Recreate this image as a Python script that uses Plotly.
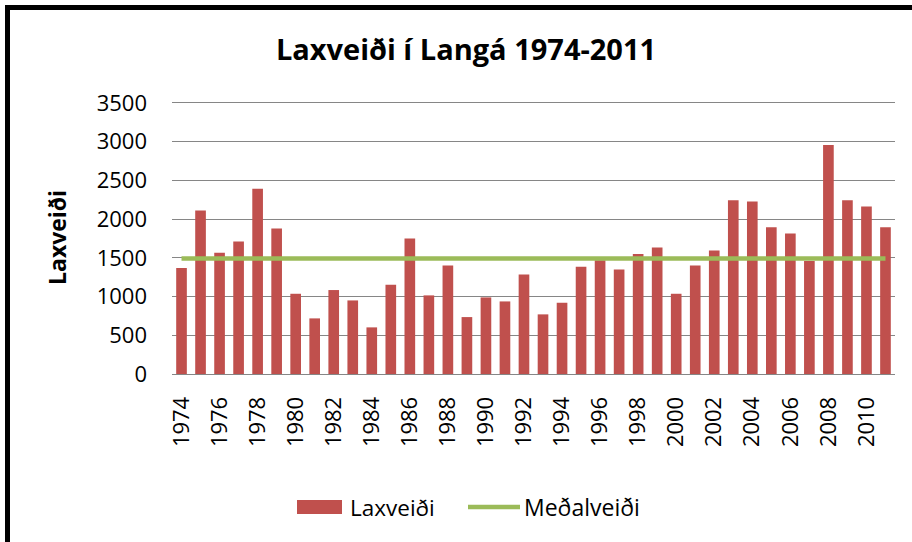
import plotly.graph_objects as go

years = list(range(1974, 2012))
laxveidi = [1370, 2111, 1565, 1711, 2391, 1879, 1036, 718, 1084, 950,
            602, 1152, 1750, 1015, 1402, 735, 989, 937, 1286, 770,
            920, 1385, 1470, 1350, 1548, 1634, 1036, 1402, 1595, 2245,
            2227, 1896, 1815, 1460, 2958, 2245, 2163, 1896]
medalveidi_value = 1492
medalveidi = [medalveidi_value] * len(years)
y_ticks = [0, 500, 1000, 1500, 2000, 2500, 3000, 3500]
x_ticks = list(range(1974, 2012, 2))

FONT = "Open Sans"
RED = "#C0504D"
GREEN = "#9BBB59"

fig = go.Figure()
fig.add_trace(go.Bar(
    x=years, y=laxveidi, name="Laxveiði",
    marker=dict(color=RED, line=dict(width=0)),
))
fig.add_trace(go.Scatter(
    x=years, y=medalveidi, name="Meðalveiði", mode="lines",
    line=dict(color=GREEN, width=4.5),
))

L, R, T, B = 172, 17, 101, 168
W, H = 912, 542
pw, ph = W - L - R, H - T - B

def px(xp):
    return (xp - L) / pw

def py(yp):
    return (H - B - yp) / ph

LEG_Y = 507

fig.update_layout(
    width=W, height=H,
    margin=dict(l=L, r=R, t=T, b=B),
    paper_bgcolor="white", plot_bgcolor="white",
    bargap=0.44,
    font=dict(family=FONT, color="#000000"),
    title=dict(text="<b>Laxveiði í Langá 1974-2011</b>",
               x=466 / W, xanchor="center", xref="container",
               y=1 - 50 / H, yanchor="middle", yref="container",
               font=dict(size=29, family=FONT, color="#000000")),
    showlegend=False,
    xaxis=dict(range=[1973.5, 2011.5], tickmode="array", tickvals=x_ticks,
               ticktext=[str(v) for v in x_ticks], tickangle=-90,
               showgrid=False, zeroline=False, showline=True,
               linecolor="#868686", linewidth=1, ticks="",
               ticklabelstandoff=13,
               tickfont=dict(size=22, family=FONT, color="#000000")),
    yaxis=dict(range=[0, 3525], tickmode="array", tickvals=y_ticks,
               showgrid=True, gridcolor="#868686", gridwidth=1,
               zeroline=False, showline=False, ticks="",
               ticklabelstandoff=24,
               tickfont=dict(size=22, family=FONT, color="#000000")),
    annotations=[
        dict(text="<b>Laxveiði</b>", textangle=-90,
             xref="paper", yref="paper", x=px(57), y=py(238),
             xanchor="center", yanchor="middle", showarrow=False,
             font=dict(size=23, family=FONT, color="#000000")),
        dict(text="Laxveiði", xref="paper", yref="paper",
             x=px(348), y=py(LEG_Y), xanchor="left", yanchor="middle",
             showarrow=False,
             font=dict(size=22.5, family=FONT, color="#000000")),
        dict(text="Meðalveiði", xref="paper", yref="paper",
             x=px(522), y=py(LEG_Y), xanchor="left", yanchor="middle",
             showarrow=False,
             font=dict(size=23, family=FONT, color="#000000")),
    ],
    shapes=[
        dict(type="line", xref="paper", yref="paper",
             x0=px(7.5), x1=px(7.5), y0=py(6), y1=py(560),
             line=dict(color="#000000", width=5)),
        dict(type="line", xref="paper", yref="paper",
             x0=px(5), x1=px(930), y0=py(7.5), y1=py(7.5),
             line=dict(color="#000000", width=5)),
        dict(type="rect", xref="paper", yref="paper",
             x0=px(297), x1=px(342), y0=py(500), y1=py(514),
             fillcolor=RED, line=dict(width=0)),
        dict(type="line", xref="paper", yref="paper",
             x0=px(468), x1=px(520), y0=py(LEG_Y), y1=py(LEG_Y),
             line=dict(color=GREEN, width=4.5)),
    ],
)

fig.write_html("out.html",
               config={"displayModeBar": False},
               post_script="document.body.style.margin='0';"
                           "document.body.style.overflow='hidden';")
